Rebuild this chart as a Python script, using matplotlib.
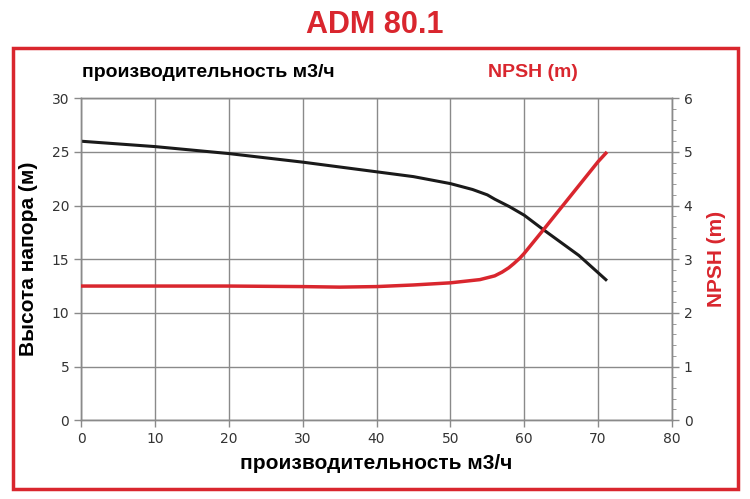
import matplotlib
matplotlib.use("Agg")
import matplotlib.pyplot as plt
from matplotlib.patches import Rectangle
from matplotlib.ticker import MultipleLocator

# расход, м3/ч
q_head = [0, 10, 20, 30, 40, 45, 50, 53, 55, 56, 58, 60, 62.6, 67.4, 71.2]
head = [26.0, 25.5, 24.85, 24.05, 23.15, 22.7, 22.05, 21.5, 21.0, 20.6, 19.9, 19.1, 17.75, 15.35, 13.0]

q_npsh = [0, 10, 20, 30, 35, 40, 45, 50, 54, 56, 57, 57.9, 58.6, 59.4, 60, 62.6, 70, 71.2]
npsh = [2.5, 2.5, 2.5, 2.49, 2.48, 2.49, 2.52, 2.56, 2.62, 2.69, 2.76, 2.84, 2.92, 3.02, 3.11, 3.55, 4.82, 5.0]

x_ticks = list(range(0, 90, 10))
y_ticks = list(range(0, 35, 5))
y2_ticks = list(range(0, 7))

RED = "#d9262e"
narrow = ["Liberation Sans Narrow", "DejaVu Sans"]
bold = ["Liberation Sans Narrow", "Liberation Sans", "DejaVu Sans"]

fig = plt.figure(figsize=(7.5, 4.99), dpi=100)
ax = fig.add_axes([0.108, 0.158, 0.788, 0.645])
ax2 = ax.twinx()

ax.plot(q_head, head, color="#1a1a1a", lw=2.2, solid_capstyle="butt", zorder=3)
ax2.plot(q_npsh, npsh, color=RED, lw=2.5, solid_capstyle="butt", zorder=3)

ax.set_xlim(0, 80)
ax.set_ylim(0, 30)
ax2.set_ylim(0, 6)
ax.set_xticks(x_ticks)
ax.set_yticks(y_ticks)
ax2.set_yticks(y2_ticks)
ax2.yaxis.set_minor_locator(MultipleLocator(0.2))

ax.grid(True, color="#8a8a8a", lw=1.0)
for a in (ax, ax2):
    for s in a.spines.values():
        s.set_color("#8a8a8a")
        s.set_linewidth(1.0)
    a.tick_params(colors="#8a8a8a", labelcolor="#333333", length=5, width=1)
    for lab in a.get_xticklabels() + a.get_yticklabels():
        lab.set_family(narrow)
        lab.set_fontsize(10)
ax2.tick_params(which="minor", length=3, colors="#8a8a8a")

ax.set_xlabel("производительность м3/ч", fontsize=15, fontweight="bold",
              family=bold, labelpad=6)
ax.set_ylabel("Высота напора (м)", fontsize=15, fontweight="bold",
              family=bold, labelpad=10)
ax2.set_ylabel("NPSH (m)", fontsize=15, fontweight="bold", family=bold,
               color=RED, labelpad=10)

fig.text(0.5, 0.95, "ADM 80.1", ha="center", va="center", fontsize=22,
         fontweight="bold", color=RED, family=bold)
fig.text(0.11, 0.855, "производительность м3/ч", ha="left", va="center",
         fontsize=14, fontweight="bold", family=bold)
fig.text(0.65, 0.855, "NPSH (m)", ha="left", va="center", fontsize=14,
         fontweight="bold", family=bold, color=RED)

fig.patches.append(Rectangle((0.017, 0.02), 0.967, 0.884, transform=fig.transFigure,
                             fill=False, edgecolor=RED, lw=2.5))

fig.savefig("out.png", dpi=100)
